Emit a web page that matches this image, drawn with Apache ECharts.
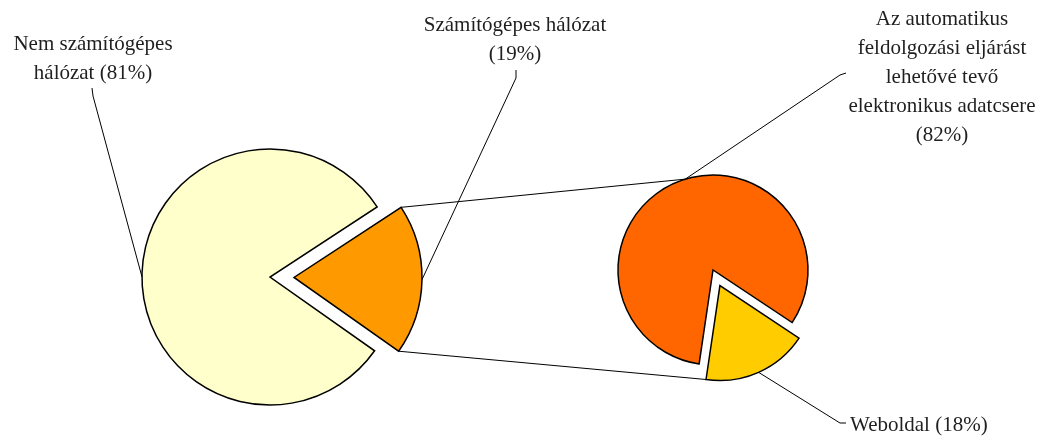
<!DOCTYPE html>
<html><head><meta charset="utf-8">
<script src="https://cdn.jsdelivr.net/npm/echarts@6/dist/echarts.min.js"></script>
<style>html,body{margin:0;padding:0;background:#fff}#c{width:1045px;height:436px}</style>
</head><body><div id="c"></div>
<script>
// ---- data ----
const primaryNames = ['Számítógépes hálózat', 'Nem számítógépes hálózat'];
const primaryValues = [19, 81];
const primaryLabels = ['Számítógépes hálózat\n({v}%)', 'Nem számítógépes\nhálózat ({v}%)'];
const secondaryNames = ['Weboldal', 'Az automatikus feldolgozási eljárást lehetővé tevő elektronikus adatcsere'];
const secondaryValues = [18, 82];
const secondaryLabels = ['Weboldal ({v}%)', 'Az automatikus\nfeldolgozási eljárást\nlehetővé tevő\nelektronikus adatcsere\n({v}%)'];

// ---- style / layout ----
const primaryColors = ['#FF9900', '#FFFFCC'];
const secondaryColors = ['#FFCC00', '#FF6600'];
const P = {cx: 270, cy: 277, r: 128, start: 33.2, offset: 24};
const S = {cx: 713, cy: 270, r: 95, start: -33.6, offset: 17};
const FONT = {fontFamily: 'Liberation Serif', fontSize: 21, lineHeight: 29, color: '#1f1f1f'};

function slices(L, values) {
  const total = values.reduce((a, b) => a + b, 0);
  let acc = 0;
  return values.map(v => {
    const a0 = L.start - acc / total * 360;
    acc += v;
    const a1 = L.start - acc / total * 360;
    return {a0, a1, mid: (a0 + a1) / 2};
  });
}
function pt(cx, cy, r, deg) {
  const t = deg * Math.PI / 180;
  return [cx + r * Math.cos(t), cy - r * Math.sin(t)];
}
const pS = slices(P, primaryValues);
const sS = slices(S, secondaryValues);
// exploded slice (index 0) is drawn around an offset apex
const pApex = pt(P.cx, P.cy, P.offset, pS[0].mid);
const sApex = pt(S.cx, S.cy, S.offset, sS[0].mid);

// label placements (layout)
const primaryLayout = [
  {x: 515, y: 40, align: 'center', pts: [pt(pApex[0], pApex[1], P.r, pS[0].mid), [516, 78], [516, 70]]},
  {x: 93, y: 59, align: 'center', pts: [pt(P.cx, P.cy, P.r, 180), [93, 96], [92, 88]]}
];
const secondaryLayout = [
  {x: 850, y: 425, align: 'left', pts: [pt(sApex[0], sApex[1], S.r, sS[0].mid), [840, 423], [846, 423]]},
  {x: 942, y: 77, align: 'center', pts: [pt(S.cx, S.cy, S.r, 107), [840, 75], [846, 73]]}
];

// one series per slice group: `show` picks which slices are visible in it
function mkSeries(center, L, names, values, colors, labels, layout, show) {
  return {
    type: 'pie', center: center, radius: L.r, startAngle: L.start, clockwise: true,
    avoidLabelOverlap: false, animation: false, silent: true,
    emphasis: {disabled: true, scale: false},
    itemStyle: {borderColor: '#000', borderWidth: 1.5, borderJoin: 'miter'},
    label: Object.assign({show: true, align: 'center',
      formatter: p => labels[p.dataIndex].replace('{v}', p.value)}, FONT),
    labelLine: {show: true, smooth: false, lineStyle: {color: '#000', width: 1}},
    labelLayout: p => {
      const o = layout[p.dataIndex];
      return {x: o.x, y: o.y, align: o.align, verticalAlign: 'middle', labelLinePoints: o.pts};
    },
    data: names.map((n, i) => show[i]
      ? {name: n, value: values[i], itemStyle: {color: colors[i]}}
      : {name: n, value: values[i], itemStyle: {color: 'rgba(0,0,0,0)', borderWidth: 0},
         label: {show: false}, labelLine: {show: false}})
  };
}

const c1 = pt(pApex[0], pApex[1], P.r, pS[0].a0);
const c2 = pt(S.cx, S.cy, S.r, 107);
const c3 = pt(pApex[0], pApex[1], P.r, pS[0].a1);
const c4 = pt(sApex[0], sApex[1], S.r, sS[0].a1);

const chart = echarts.init(document.getElementById('c'), null, {renderer: 'canvas'});
chart.setOption({
  animation: false,
  graphic: [
    {type: 'line', z: 0, shape: {x1: c1[0], y1: c1[1], x2: c2[0], y2: c2[1]}, style: {stroke: '#000', lineWidth: 1}},
    {type: 'line', z: 0, shape: {x1: c3[0], y1: c3[1], x2: c4[0], y2: c4[1]}, style: {stroke: '#000', lineWidth: 1}}
  ],
  series: [
    mkSeries([P.cx, P.cy], P, primaryNames, primaryValues, primaryColors, primaryLabels, primaryLayout, [false, true]),
    mkSeries(pApex, P, primaryNames, primaryValues, primaryColors, primaryLabels, primaryLayout, [true, false]),
    mkSeries([S.cx, S.cy], S, secondaryNames, secondaryValues, secondaryColors, secondaryLabels, secondaryLayout, [false, true]),
    mkSeries(sApex, S, secondaryNames, secondaryValues, secondaryColors, secondaryLabels, secondaryLayout, [true, false])
  ]
});
</script></body></html>
